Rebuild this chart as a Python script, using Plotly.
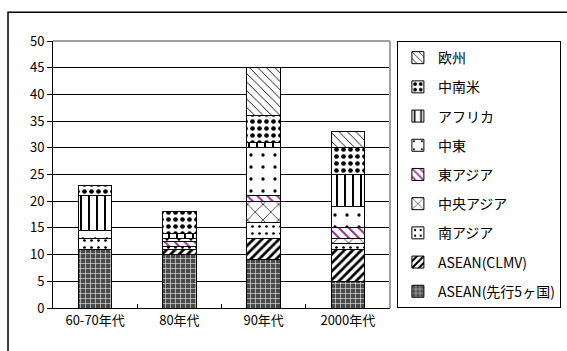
import plotly.graph_objects as go

categories = ["60-70年代", "80年代", "90年代", "2000年代"]
asean5 = [11, 10, 9, 5]
clmv = [0, 1, 4, 6]
south_asia = [2, 0.5, 3, 1]
central_asia = [0, 0, 4, 1]
east_asia = [0, 1, 1, 2]
middle_east = [1.5, 0.5, 9, 4]
africa = [6.5, 1, 1, 6]
latin_america = [2, 4, 5, 5]
europe = [0, 0, 9, 3]

series = [
    ("ASEAN(先行5ヶ国)", asean5, dict(shape="+", bgcolor="#4a4a4a", fgcolor="white", size=5, solidity=0.2)),
    ("ASEAN(CLMV)", clmv, dict(shape="/", bgcolor="white", fgcolor="black", size=6, solidity=0.45)),
    ("南アジア", south_asia, dict(shape=".", bgcolor="white", fgcolor="black", size=7, solidity=0.12)),
    ("中央アジア", central_asia, dict(shape="x", bgcolor="white", fgcolor="black", size=11, solidity=0.12)),
    ("東アジア", east_asia, dict(shape="\\", bgcolor="white", fgcolor="#993399", size=7, solidity=0.3)),
    ("中東", middle_east, dict(shape=".", bgcolor="white", fgcolor="black", size=12, solidity=0.06)),
    ("アフリカ", africa, dict(shape="|", bgcolor="white", fgcolor="black", size=8, solidity=0.25)),
    ("中南米", latin_america, dict(shape=".", bgcolor="white", fgcolor="black", size=7, solidity=0.35)),
    ("欧州", europe, dict(shape="\\", bgcolor="white", fgcolor="black", size=6, solidity=0.15)),
]

fig = go.Figure()
n = len(series)
for i, (name, vals, pat) in enumerate(series):
    fig.add_trace(go.Bar(
        x=categories, y=vals, name=name, legendgroup=name, legendrank=(n - i) * 10,
        marker=dict(color=pat["bgcolor"], line=dict(color="black", width=1),
                    pattern=dict(shape=pat["shape"], fgcolor=pat["fgcolor"], bgcolor=pat["bgcolor"],
                                 size=pat["size"], solidity=pat["solidity"], fillmode="replace")),
    ))

fig.update_layout(
    width=567, height=351,
    margin=dict(l=53, r=177, t=41, b=43, autoexpand=False),
    barmode="stack", bargap=0.6,
    paper_bgcolor="white", plot_bgcolor="white",
    font=dict(family="Noto Sans CJK JP", size=12, color="black"),
    showlegend=True,
    legend=dict(xref="container", yref="container", x=0.700, y=0.883,
                xanchor="left", yanchor="top",
                traceorder="grouped", tracegroupgap=8, maxheight=400,
                bordercolor="black", borderwidth=1, bgcolor="white",
                font=dict(size=14), itemwidth=30),
    xaxis=dict(showline=True, linecolor="black", linewidth=1, mirror=False,
               ticks="inside", ticklen=4, tickcolor="black", tickson="boundaries",
               showgrid=False, tickfont=dict(size=13)),
    yaxis=dict(range=[0, 50], dtick=5, showline=True, linecolor="black", linewidth=1,
               ticks="outside", ticklen=5, tickcolor="black",
               showgrid=True, gridcolor="black", gridwidth=1, zeroline=False,
               tickfont=dict(size=13)),
    shapes=[
        dict(type="line", xref="paper", yref="paper", x0=0, x1=1, y0=1, y1=1,
             line=dict(color="#a0a0a0", width=2)),
        dict(type="line", xref="paper", yref="paper", x0=1, x1=1, y0=0, y1=1,
             line=dict(color="#a0a0a0", width=2)),
        dict(type="rect", xref="paper", yref="paper", x0=-0.1335, x1=2, y0=-1, y1=1.108,
             line=dict(color="black", width=1.5), layer="above"),
    ],
)

fig.write_html("out.html")
